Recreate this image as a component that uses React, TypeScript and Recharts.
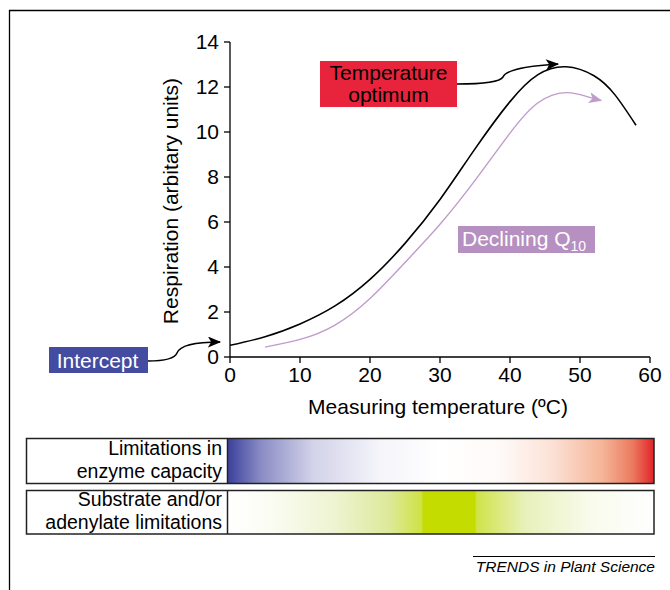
import React from "react";
import { LineChart, Line, XAxis, YAxis } from "recharts";

// black curve: measured respiration vs temperature
const temps = [0, 5, 10, 15, 20, 25, 30, 35, 40, 44, 48, 52, 55, 58];
const respiration = [0.52, 0.9, 1.47, 2.27, 3.45, 5.05, 7.0, 9.25, 11.35, 12.55, 12.9, 12.5, 11.65, 10.3];

// purple curve: declining Q10
const q10Temps = [5, 10, 15, 20, 25, 30, 35, 40, 44, 48, 51, 53];
const q10Resp = [0.44, 0.78, 1.42, 2.6, 4.2, 5.9, 7.85, 9.95, 11.3, 11.75, 11.57, 11.4];

const xTicks = [0, 10, 20, 30, 40, 50, 60];
const yTicks = [0, 2, 4, 6, 8, 10, 12, 14];

const FONT = "'Liberation Sans', Arial, Helvetica, sans-serif";

const optimumData = temps.map((t, i) => ({ t, r: respiration[i] }));
const q10Data = q10Temps.map((t, i) => ({ t, r: q10Resp[i] }));

const tickStyle = { fill: "#000", fontSize: 21, fontFamily: FONT };

function Overlay() {
  return (
    <svg
      width={670}
      height={590}
      style={{ position: "absolute", left: 0, top: 0, pointerEvents: "none", fontFamily: FONT }}
    >
      <defs>
        <marker id="headBlack" viewBox="0 0 12 10" refX="11" refY="5" markerWidth="14" markerHeight="11" markerUnits="userSpaceOnUse" orient="auto">
          <path d="M0,0 L12,5 L0,10 L3,5 z" fill="#000" />
        </marker>
        <marker id="headPurple" viewBox="0 0 12 10" refX="11" refY="5" markerWidth="14" markerHeight="11" markerUnits="userSpaceOnUse" orient="auto">
          <path d="M0,0 L12,5 L0,10 L3,5 z" fill="#c09ccc" />
        </marker>
        <linearGradient id="enzymeGrad" x1="0" x2="1" y1="0" y2="0">
          <stop offset="0" stopColor="#3a3f9b" />
          <stop offset="0.08" stopColor="#8a8cc4" />
          <stop offset="0.2" stopColor="#d2d2e9" />
          <stop offset="0.36" stopColor="#f5f5fa" />
          <stop offset="0.5" stopColor="#ffffff" />
          <stop offset="0.64" stopColor="#fefaf8" />
          <stop offset="0.76" stopColor="#fce2d6" />
          <stop offset="0.88" stopColor="#f5b497" />
          <stop offset="0.95" stopColor="#ec7a5f" />
          <stop offset="1" stopColor="#e2232a" />
        </linearGradient>
        <linearGradient id="substrateGrad" x1="0" x2="1" y1="0" y2="0">
          <stop offset="0" stopColor="#ffffff" />
          <stop offset="0.1" stopColor="#fbfcf3" />
          <stop offset="0.25" stopColor="#eef4d2" />
          <stop offset="0.38" stopColor="#dde99a" />
          <stop offset="0.455" stopColor="#cfe244" />
          <stop offset="0.46" stopColor="#c4dc00" />
          <stop offset="0.58" stopColor="#c4dc00" />
          <stop offset="0.585" stopColor="#d0e34a" />
          <stop offset="0.7" stopColor="#e8f1bb" />
          <stop offset="0.85" stopColor="#f8fbec" />
          <stop offset="1" stopColor="#ffffff" />
        </linearGradient>
      </defs>

      {/* frame */}
      <line x1={9} y1={10.5} x2={670} y2={10.5} stroke="#000" strokeWidth={1.3} />
      <line x1={9.5} y1={10} x2={9.5} y2={590} stroke="#000" strokeWidth={1.3} />

      {/* axis titles */}
      <text x={170} y={201} transform="rotate(-90 170 201)" textAnchor="middle" dominantBaseline="central" fontSize={21} fill="#000">
        Respiration (arbitary units)
      </text>
      <text x={438} y={414} textAnchor="middle" fontSize={21} fill="#000">
        Measuring temperature (ºC)
      </text>

      {/* temperature optimum */}
      <path d="M457,84 C485,84 500,82 503,77 C506,70 525,66 558,64" fill="none" stroke="#000" strokeWidth={1.5} markerEnd="url(#headBlack)" />
      <rect x={320} y={61} width={137} height={46} fill="#e8243c" />
      <text textAnchor="middle" fontSize={21} fill="#000">
        <tspan x={388.5} y={80}>Temperature</tspan>
        <tspan x={388.5} y={102}>optimum</tspan>
      </text>

      {/* intercept */}
      <path d="M148,361 C168,361 175,358 177,353 C180,345 195,342 220,342" fill="none" stroke="#000" strokeWidth={1.5} markerEnd="url(#headBlack)" />
      <rect x={49} y={347} width={99} height={26} fill="#434ca0" />
      <text x={97.5} y={368} textAnchor="middle" fontSize={21} fill="#fff">Intercept</text>

      {/* declining Q10 */}
      <rect x={458} y={226} width={137} height={27} fill="#b690c0" />
      <text x={462} y={246} fontSize={21} fill="#fff">
        Declining Q<tspan fontSize={14} dy={5}>10</tspan>
      </text>

      {/* limitation bars */}
      <rect x={227} y={438} width={427} height={46} fill="url(#enzymeGrad)" />
      <rect x={26.5} y={438.5} width={627.5} height={45} fill="none" stroke="#222" strokeWidth={1.5} />
      <line x1={227.5} y1={438} x2={227.5} y2={484} stroke="#222" strokeWidth={1.5} />
      <text x={222} y={455} textAnchor="end" fontSize={19.5} fill="#000">Limitations in</text>
      <text x={222} y={478} textAnchor="end" fontSize={19.5} fill="#000">enzyme capacity</text>

      <rect x={227} y={490} width={427} height={44} fill="url(#substrateGrad)" />
      <rect x={26.5} y={490.5} width={627.5} height={43.5} fill="none" stroke="#222" strokeWidth={1.5} />
      <line x1={227.5} y1={490} x2={227.5} y2={534} stroke="#222" strokeWidth={1.5} />
      <text x={222} y={506} textAnchor="end" fontSize={19.5} fill="#000">Substrate and/or</text>
      <text x={222} y={529} textAnchor="end" fontSize={19.5} fill="#000">adenylate limitations</text>

      {/* credit */}
      <line x1={473} y1={556.5} x2={655} y2={556.5} stroke="#000" strokeWidth={1} />
      <text x={655} y={572} textAnchor="end" fontSize={15.5} fontStyle="italic" fill="#000">
        TRENDS in Plant Science
      </text>
    </svg>
  );
}

export default function App() {
  return (
    <div style={{ position: "absolute", left: 0, top: 0, width: 670, height: 590, background: "#fff", fontFamily: FONT }}>
      <LineChart width={670} height={590} margin={{ top: 42, right: 20, bottom: 203, left: 0 }}>
        <XAxis
          type="number"
          dataKey="t"
          domain={[0, 60]}
          ticks={xTicks}
          allowDataOverflow
          height={30}
          stroke="#000"
          strokeWidth={1.3}
          tickSize={6}
          tickMargin={4}
          tick={tickStyle}
          tickLine={{ stroke: "#000" }}
        />
        <YAxis
          type="number"
          domain={[0, 14]}
          ticks={yTicks}
          allowDataOverflow
          width={230}
          stroke="#000"
          strokeWidth={1.3}
          tickSize={6}
          tickMargin={5}
          tick={tickStyle}
          tickLine={{ stroke: "#000" }}
        />
        <Line
          data={optimumData}
          dataKey="r"
          type="natural"
          stroke="#000"
          strokeWidth={1.6}
          dot={false}
          isAnimationActive={false}
        />
        <Line
          data={q10Data}
          dataKey="r"
          type="natural"
          stroke="#c09ccc"
          strokeWidth={1.4}
          dot={false}
          markerEnd="url(#headPurple)"
          isAnimationActive={false}
        />
      </LineChart>
      <Overlay />
    </div>
  );
}
